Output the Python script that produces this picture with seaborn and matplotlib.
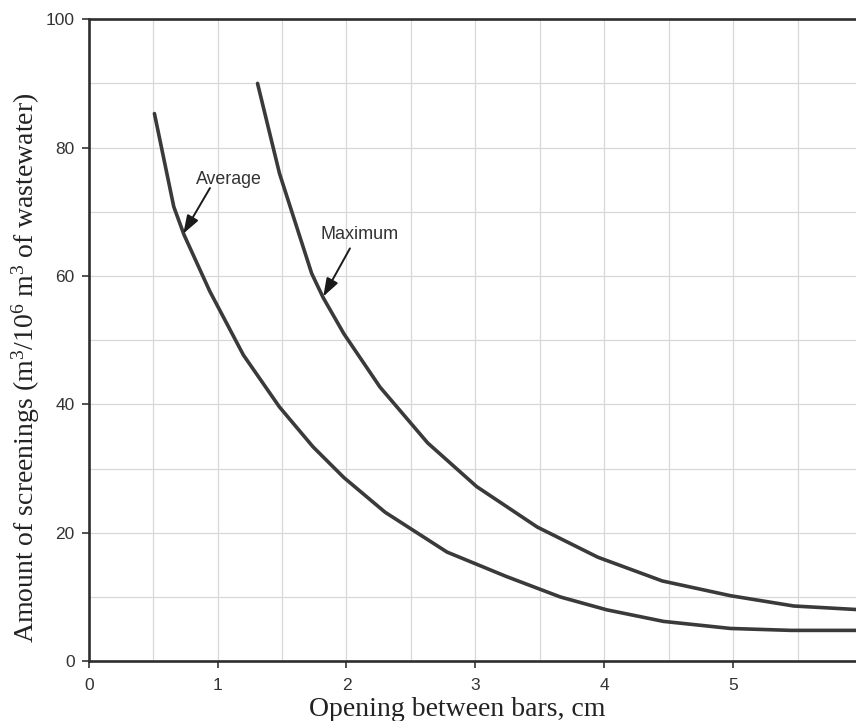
import numpy as np
import pandas as pd
import matplotlib
matplotlib.use("Agg")
import matplotlib.pyplot as plt
import seaborn as sns

# curve points (x = opening in cm, y = m3/10^6 m3)
avg_x = [0.51, 0.66, 0.74, 0.94, 1.20, 1.48, 1.74, 1.98, 2.30, 2.78, 3.24, 3.66, 4.02, 4.46, 4.98, 5.45, 6.0]
avg_y = [85.3, 70.8, 66.4, 57.6, 47.7, 39.6, 33.4, 28.6, 23.2, 17.0, 13.2, 10.0, 8.0, 6.2, 5.1, 4.8, 4.8]

max_x = [1.31, 1.48, 1.73, 1.82, 1.98, 2.26, 2.63, 3.01, 3.48, 3.95, 4.45, 4.98, 5.47, 6.0]
max_y = [90.0, 76.0, 60.4, 56.6, 51.0, 42.7, 34.0, 27.2, 20.9, 16.2, 12.5, 10.2, 8.6, 8.0]

x_ticks = [0, 1, 2, 3, 4, 5, 6]
y_ticks = [0, 20, 40, 60, 80, 100]

df = pd.concat([
    pd.DataFrame({"x": avg_x, "y": avg_y, "curve": "Average"}),
    pd.DataFrame({"x": max_x, "y": max_y, "curve": "Maximum"}),
])

sns.set_style("white")
plt.rcParams["font.family"] = ["Liberation Sans", "DejaVu Sans"]
plt.rcParams["mathtext.fontset"] = "custom"
plt.rcParams["mathtext.rm"] = "Liberation Serif"
plt.rcParams["mathtext.it"] = "Liberation Serif:italic"
plt.rcParams["mathtext.bf"] = "Liberation Serif:bold"

line_col = "#3a3a3a"
fig = plt.figure(figsize=(8.56, 7.21), dpi=100)
# axes run a bit past the right edge of the figure, like the cropped original
ax_w_px = 862 - 88.7
ax_h_px = 661.2 - 19.2
ax = fig.add_axes([88.7 / 856, 59.8 / 721, ax_w_px / 856, ax_h_px / 721])

sns.lineplot(data=df, x="x", y="y", hue="curve", units="curve", estimator=None,
             palette={"Average": line_col, "Maximum": line_col},
             linewidth=2.6, legend=False, ax=ax, sort=False)

ax.set_xlim(0, 6)
ax.set_ylim(0, 100)
ax.set_xticks(x_ticks)
ax.set_yticks(y_ticks)
ax.set_xticks(np.arange(0, 6.01, 0.5), minor=True)
ax.set_yticks(np.arange(0, 100.1, 10), minor=True)
ax.grid(which="both", color="#d8d8d8", linewidth=0.9)
ax.set_axisbelow(True)

ax.tick_params(axis="both", which="major", direction="out", length=5, width=1.2,
               color="#333333", labelsize=12.5, labelcolor="#333333",
               bottom=True, left=True)
ax.tick_params(axis="x", which="major", pad=7)
ax.tick_params(axis="y", which="major", pad=5)
ax.tick_params(which="minor", length=0)

for side in ["left", "bottom", "top"]:
    ax.spines[side].set_color("#2e2e2e")
    ax.spines[side].set_linewidth(1.9)
ax.spines["right"].set_visible(False)

ax.set_xlabel("Opening between bars, cm", family="Liberation Serif", fontsize=20,
              color="#222222", va="baseline")
ax.xaxis.set_label_coords((457 - 88.7) / ax_w_px, -(716 - 661.2) / ax_h_px)
ax.set_ylabel("Amount of screenings (m$^3$/10$^6$ m$^3$ of wastewater)",
              family="Liberation Serif", fontsize=20, color="#222222")
ax.yaxis.set_label_coords((42 - 88.7) / ax_w_px, (661.2 - 367.5) / ax_h_px)

# annotations
ax.text(1.088, 75.1, "Average", ha="center", va="center", fontsize=12.8, color="#333333")
ax.annotate("", xy=(0.734, 66.6), xytext=(0.941, 73.7),
            arrowprops=dict(arrowstyle="-|>,head_length=1.1,head_width=0.38",
                            color="#1a1a1a", lw=1.4, shrinkA=0, shrinkB=0))
ax.text(2.105, 66.4, "Maximum", ha="center", va="center", fontsize=13, color="#333333")
ax.annotate("", xy=(1.82, 56.8), xytext=(2.027, 64.3),
            arrowprops=dict(arrowstyle="-|>,head_length=1.1,head_width=0.38",
                            color="#1a1a1a", lw=1.4, shrinkA=0, shrinkB=0))

fig.savefig("out.png", dpi=100)
